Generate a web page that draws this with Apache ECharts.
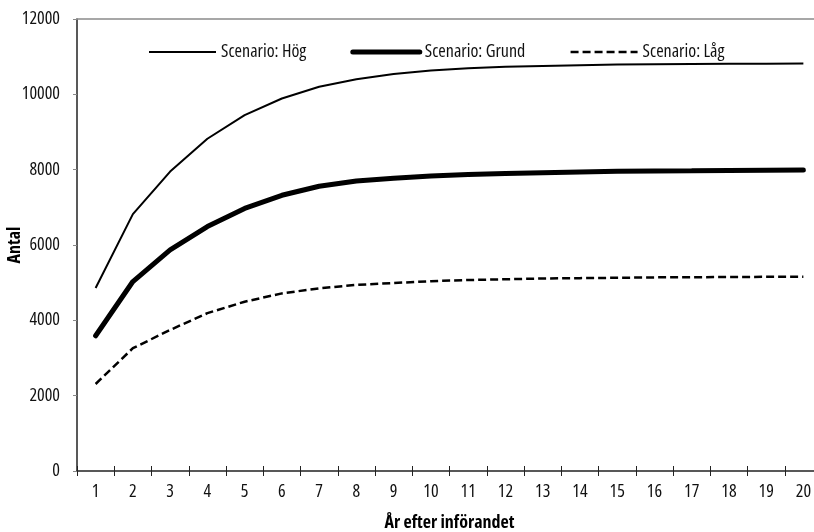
<!DOCTYPE html>
<html><head><meta charset="utf-8">
<script src="https://cdn.jsdelivr.net/npm/echarts@6/dist/echarts.min.js"></script>
<style>html,body{margin:0;padding:0;background:#fff}#c{width:814px;height:532px}</style>
</head><body><div id="c"></div>
<script>
var years = ['1','2','3','4','5','6','7','8','9','10','11','12','13','14','15','16','17','18','19','20'];
var hog = [4860,6820,7950,8820,9450,9890,10200,10400,10540,10630,10690,10730,10755,10775,10790,10800,10805,10810,10815,10820];
var grund = [3590,5030,5870,6490,6970,7320,7560,7700,7770,7830,7870,7900,7920,7940,7955,7965,7970,7980,7985,7990];
var lag = [2310,3260,3745,4190,4495,4715,4850,4940,4990,5040,5070,5090,5110,5120,5130,5140,5145,5150,5155,5160];
var names = ['Scenario: Hög','Scenario: Grund','Scenario: Låg'];
var yTicks = [0,2000,4000,6000,8000,10000,12000];

var FONT = '"Open Sans",sans-serif';
var FS = 18;
var TXT = {fontFamily:FONT, fontStyle:'condensed', fontSize:FS, color:'#111'};
function t(extra){ var o={}; for (var k in TXT) o[k]=TXT[k]; for (var k2 in extra) o[k2]=extra[k2]; return o; }

var chart = echarts.init(document.getElementById('c'), null, {renderer:'canvas'});
chart.setOption({
  animation:false,
  textStyle:{fontFamily:FONT},
  grid:{left:77, top:19, right:-8, bottom:61, containLabel:false, outerBoundsMode:'none'},
  legend:{
    left:143, top:38, itemWidth:67, itemHeight:14, itemGap:44,
    textStyle:t({}),
    itemStyle:{opacity:0},
    data:[
      {name:names[0], lineStyle:{width:2}},
      {name:names[1], lineStyle:{width:5}},
      {name:names[2], lineStyle:{width:2.5}}
    ]
  },
  xAxis:[{
    type:'category', data:years, position:'bottom',
    boundaryGap:true,
    axisLine:{lineStyle:{color:'#222', width:1.5}},
    axisTick:{show:true, length:5, lineStyle:{color:'#222'}},
    axisLabel:t({margin:12}),
    name:'År efter införandet', nameLocation:'middle', nameGap:43, nameMoveOverlap:false,
    nameTextStyle:t({fontWeight:'bold', color:'#000'})
  },{
    type:'category', data:years, position:'bottom', gridIndex:0,
    axisLine:{show:false},
    axisTick:{show:true, inside:true, length:5, lineStyle:{color:'#222'}},
    axisLabel:{show:false}
  },{
    type:'category', data:years, position:'top', gridIndex:0,
    axisLine:{show:true, lineStyle:{color:'#8a8a8a', width:1.5}},
    axisTick:{show:false}, axisLabel:{show:false}
  }],
  yAxis:{
    type:'value', min:yTicks[0], max:yTicks[yTicks.length-1], interval:2000,
    axisLine:{show:true, lineStyle:{color:'#222', width:1.5}},
    axisTick:{show:true, length:4, lineStyle:{color:'#888'}},
    splitLine:{show:false},
    axisLabel:t({margin:17, formatter:function(v){return String(v);}}),
    name:'Antal', nameLocation:'middle', nameGap:53, nameRotate:90, nameMoveOverlap:false,
    nameTextStyle:t({fontWeight:'bold', color:'#000'})
  },
  series:[
    {name:names[0], type:'line', data:hog, symbol:'none', xAxisIndex:0,
     lineStyle:{color:'#000', width:2}, itemStyle:{color:'#000'}},
    {name:names[1], type:'line', data:grund, symbol:'none', xAxisIndex:0,
     lineStyle:{color:'#000', width:5, cap:'round'}, itemStyle:{color:'#000'}},
    {name:names[2], type:'line', data:lag, symbol:'none', xAxisIndex:0,
     lineStyle:{color:'#000', width:2.5, type:[8,4]}, itemStyle:{color:'#000'}}
  ]
});
</script></body></html>
